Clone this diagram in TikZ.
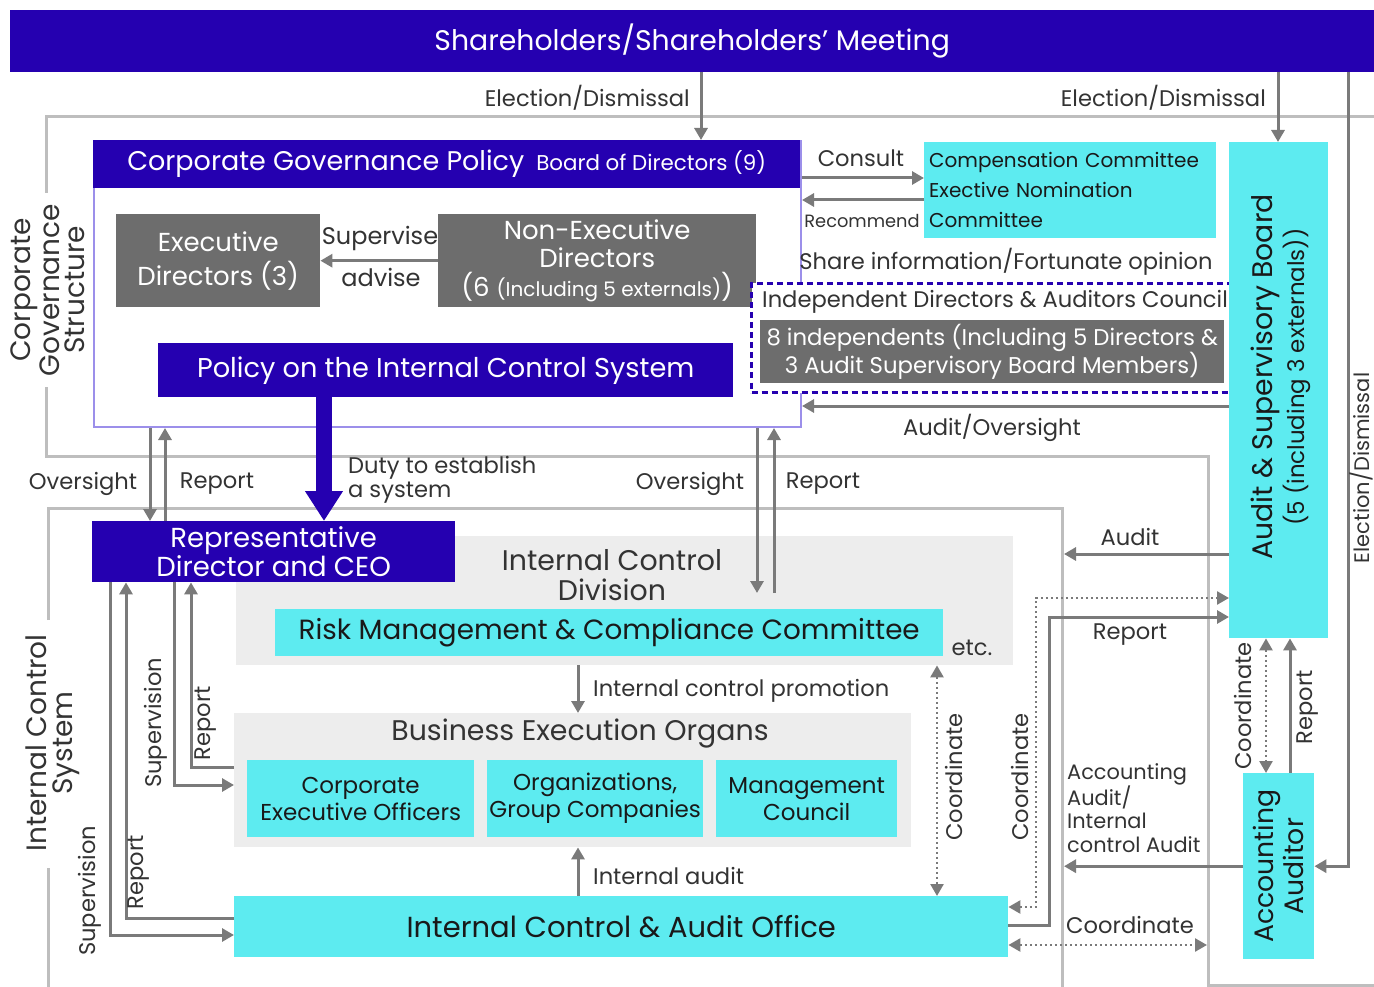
\documentclass[tikz,border=0pt]{standalone}
\usepackage{fontspec}
\setmainfont{Poppins}
\usepackage{tikz}
\usetikzlibrary{arrows.meta}
\definecolor{icblue}{HTML}{2500B0}
\definecolor{iccyan}{HTML}{5DEBF0}
\definecolor{icgray}{HTML}{6D6D6D}
\definecolor{iclight}{HTML}{EDEDED}
\definecolor{icarrow}{HTML}{7A7A7A}
\definecolor{icframe}{HTML}{BEBEBE}
\definecolor{icpurple}{HTML}{9C8FEA}
\definecolor{ictext}{HTML}{333333}
\newcommand{\fsTitle}{\fontsize{28.3}{30}\selectfont}
\newcommand{\fsHead}{\fontsize{27}{28}\selectfont}
\newcommand{\fsSub}{\fontsize{21.4}{23}\selectfont}
\newcommand{\fsBox}{\fontsize{28.4}{30}\selectfont}
\newcommand{\fsUnit}{\fontsize{23}{27}\selectfont}
\newcommand{\fsLbl}{\fontsize{22.6}{24}\selectfont}
\newcommand{\fsSmall}{\fontsize{20.9}{23.5}\selectfont}
\newcommand{\fsSection}{\fontsize{28}{25.5}\selectfont}
\tikzset{
  bluebox/.style={fill=icblue, text=white, inner sep=0pt, anchor=north west, align=center},
  cyanbox/.style={fill=iccyan, text=black!90, inner sep=0pt, anchor=north west, align=center},
  graybox/.style={fill=icgray, text=white, inner sep=0pt, anchor=north west, align=center},
  zonebg/.style={fill=iclight, inner sep=0pt, anchor=north west},
  lbl/.style={font=\fsLbl, text=ictext, inner sep=0pt},
  link/.style={draw=icarrow, line width=3pt, -{Triangle[length=12pt,width=13pt]}},
  dotlink/.style={draw=icarrow, line width=2.5pt, dash pattern=on 2.5pt off 2.5pt,
    {Triangle[length=12pt,width=13pt]}-{Triangle[length=12pt,width=13pt]}},
  frameline/.style={draw=icframe, line width=3pt}
}
\begin{document}
\begin{tikzpicture}[x=1pt,y=-1pt]
\useasboundingbox (0,0) rectangle (1374,987);
% Shareholders
\node[bluebox, minimum width=1364pt, minimum height=62pt, font=\fsTitle] (share) at (10,10)
    {Shareholders/Shareholders’ Meeting};
% Frames of the two structures
\draw[frameline] (1374,117) -- (46,117) -- (46,193);
\draw[frameline] (46,387) -- (46,456) -- (1208,456) -- (1208,985) -- (1374,985);
\draw[frameline] (48,620) -- (48,508) -- (1062,508) -- (1062,987);
\draw[frameline] (48,868) -- (48,987);
\node[font=\fsSection, text=ictext, rotate=90, align=center, inner sep=0pt] (govlbl) at (48,290)
    {Corporate\\Governance\\Structure};
\node[font=\fontsize{28}{26}\selectfont, text=ictext, rotate=90, align=center, inner sep=0pt] (icslbl) at (53,743)
    {Internal Control\\System};
% Board of Directors
\node[draw=icpurple, line width=2pt, fill=white, minimum width=707pt, minimum height=286pt,
    anchor=north west, inner sep=0pt] (board) at (93,140) {};
\node[bluebox, minimum width=707pt, minimum height=48pt] (boardhead) at (93,140)
    {{\fsHead Corporate Governance Policy}\hspace{12pt}{\fsSub Board of Directors (9)}};
\node[graybox, minimum width=204pt, minimum height=93pt, font=\fontsize{26}{34}\selectfont] (execdir) at (116,214)
    {Executive\\Directors (3)};
\node[graybox, minimum width=318pt, minimum height=93pt, font=\fontsize{26}{28.5}\selectfont] (nonexec) at (438,214)
    {Non-Executive\\Directors\\(6 {\fontsize{20}{22}\selectfont(Including 5 externals)})};
\draw[link] (nonexec.west) -- (execdir.east);
\node[lbl, font=\fontsize{24}{26}\selectfont] (supervise) at (380,238) {Supervise};
\node[lbl, font=\fontsize{24}{26}\selectfont] (advise) at (381,277) {advise};
\node[bluebox, minimum width=575pt, minimum height=54pt, font=\fontsize{27.2}{30}\selectfont] (policy) at (158,343)
    {Policy on the Internal Control System};
% Committees and council
\node[cyanbox, minimum width=292pt, minimum height=96pt, text width=282pt, align=left,
    font=\fontsize{20}{30}\selectfont] (comp) at (924,142)
    {Compensation Committee\\Exective Nomination\\Committee};
\coordinate (consulty) at (0,178);
\coordinate (recy) at (0,200);
\draw[link] (board.east |- consulty) -- (comp.west |- consulty);
\draw[link] (comp.west |- recy) -- (board.east |- recy);
\node[lbl] (consult) at (861,158) {Consult};
\node[lbl, font=\fontsize{17.8}{20}\selectfont] (recommend) at (862,221) {Recommend};
\node[lbl] (shareinfo) at (1006,262) {Share information/Fortunate opinion};
\node[draw=icblue, fill=white, line width=3pt, dash pattern=on 6pt off 4pt, minimum width=486pt,
    minimum height=109pt, anchor=north west, inner sep=0pt] (council) at (750,282) {};
\node[lbl, anchor=west] (counciltitle) at (762,302) {Independent Directors \& Auditors Council};
\node[graybox, minimum width=464pt, minimum height=63pt, font=\fontsize{22.8}{28}\selectfont] (indep) at (760,320)
    {8 independents (Including 5 Directors \&\\3 Audit Supervisory Board Members)};
% Audit & Supervisory Board
\node[cyanbox, minimum width=99pt, minimum height=496pt] (asb) at (1229,142) {};
\node[rotate=90, align=center, text=black!90, inner sep=0pt, font=\fontsize{28.3}{32}\selectfont] (asbtext) at (1281,377)
    {Audit \& Supervisory Board\\{\fontsize{22.9}{25}\selectfont (5 (including 3 externals))}};
\coordinate (auy) at (0,406);
\draw[link] (asb.west |- auy) -- (board.east |- auy);
\node[lbl] (auditover) at (992,428) {Audit/Oversight};
% Election / Dismissal
\coordinate (elA) at (701,0);
\coordinate (elB) at (1278,0);
\coordinate (elC) at (1348,0);
\draw[link] (share.south -| elA) -- (board.north -| elA);
\draw[link] (share.south -| elB) -- (asb.north -| elB);
\node[lbl, anchor=east] (elecA) at (690,98) {Election/Dismissal};
\node[lbl, anchor=east] (elecB) at (1266,98) {Election/Dismissal};
% Internal control structure
\node[zonebg, minimum width=777pt, minimum height=129pt] (icd) at (236,536) {};
\node[font=\fsBox, text=ictext, align=center, inner sep=0pt] (icdtitle) at (612,575) {Internal Control\\Division};
\node[cyanbox, minimum width=668pt, minimum height=47pt, font=\fontsize{27.8}{30}\selectfont] (risk) at (275,609)
    {Risk Management \& Compliance Committee};
\node[lbl] (etc) at (972,648) {etc.};
\node[bluebox, minimum width=363pt, minimum height=61pt, font=\fontsize{27.5}{28}\selectfont] (ceo) at (92,521)
    {Representative\\Director and CEO};
\node[zonebg, minimum width=677pt, minimum height=134pt] (beo) at (234,713) {};
\node[font=\fsBox, text=ictext, inner sep=0pt] (beotitle) at (580,734) {Business Execution Organs};
\node[cyanbox, minimum width=227pt, minimum height=77pt, font=\fsUnit] (ceoff) at (247,760)
    {Corporate\\Executive Officers};
\node[cyanbox, minimum width=216pt, minimum height=77pt, font=\fsUnit] (orggrp) at (487,760)
    {Organizations,\\Group Companies};
\node[cyanbox, minimum width=181pt, minimum height=77pt, font=\fsUnit] (mgmt) at (716,760)
    {Management\\Council};
\node[cyanbox, minimum width=774pt, minimum height=61pt, font=\fontsize{29}{30}\selectfont] (office) at (234,896)
    {Internal Control \& Audit Office};
% Duty to establish a system
\coordinate (dutyx) at (324,0);
\draw[icblue, line width=16pt, -{Triangle[length=30pt,width=36pt]}] (policy.south -| dutyx) -- (ceo.north -| dutyx);
\node[lbl, anchor=north west, align=left] (duty) at (348,456) {Duty to establish\\a system};
% Oversight / Report with the board
\coordinate (ovA) at (150,0);
\coordinate (rpA) at (165,0);
\coordinate (ovB) at (757,0);
\coordinate (rpB) at (774,0);
\coordinate (icdtap) at (0,593);
\draw[link] (board.south -| ovA) -- (ceo.north -| ovA);
\draw[link] (ceo.north -| rpA) -- (board.south -| rpA);
\draw[link] (board.south -| ovB) -- (icdtap -| ovB);
\draw[link] (icdtap -| rpB) -- (board.south -| rpB);
\node[lbl] (ovAlbl) at (83,484) {Oversight};
\node[lbl] (rpAlbl) at (217,484) {Report};
\node[lbl] (ovBlbl) at (690,484) {Oversight};
\node[lbl] (rpBlbl) at (823,484) {Report};
% Internal control promotion / Internal audit
\coordinate (midx) at (578,0);
\draw[link] (icd.south -| midx) -- (beo.north -| midx);
\draw[link] (office.north -| midx) -- (beo.south -| midx);
\node[lbl, anchor=west] (promo) at (593,691) {Internal control promotion};
\node[lbl, anchor=west] (intaudit) at (593,876) {Internal audit};
% Supervision / Report from the CEO
\coordinate (supA) at (110,935);
\coordinate (repA) at (126,918);
\coordinate (supB) at (174,785);
\coordinate (repB) at (191,767);
\draw[link] (ceo.south -| supA) |- (office.west |- supA);
\draw[link] (office.west |- repA) -| (ceo.south -| repA);
\draw[link] (ceo.south -| supB) |- (beo.west |- supB);
\draw[link] (beo.west |- repB) -| (ceo.south -| repB);
\node[lbl, rotate=90] (supAlbl) at (90,891) {Supervision};
\node[lbl, rotate=90] (repAlbl) at (139,872) {Report};
\node[lbl, rotate=90] (supBlbl) at (156,723) {Supervision};
\node[lbl, rotate=90] (repBlbl) at (206,723) {Report};
% Coordinate inside internal control
\coordinate (coA) at (937,0);
\draw[dotlink] (icd.south -| coA) -- (office.north -| coA);
\node[lbl, rotate=90] (coAlbl) at (954,777) {Coordinate};
% Accounting Auditor
\node[cyanbox, minimum width=71pt, minimum height=186pt] (auditor) at (1243,773) {};
\node[rotate=90, align=center, text=black!90, inner sep=0pt, font=\fontsize{26.7}{30}\selectfont] (auditortext) at (auditor.center)
    {Accounting\\Auditor};
\coordinate (coB) at (1266,0);
\coordinate (rpC) at (1290,0);
\draw[dotlink] (asb.south -| coB) -- (auditor.north -| coB);
\draw[link] (auditor.north -| rpC) -- (asb.south -| rpC);
\node[lbl, rotate=90] (coBlbl) at (1243,706) {Coordinate};
\node[lbl, rotate=90] (rpClbl) at (1308,707) {Report};
\draw[link] (share.south -| elC) |- (auditor.east);
\node[lbl, rotate=90, font=\fontsize{21}{23}\selectfont] (elecC) at (1361,468) {Election/Dismissal};
% Audit lines to the internal control structure
\coordinate (icsedge) at (1064,0);
\coordinate (audity) at (0,554);
\draw[link] (asb.west |- audity) -- (icsedge |- audity);
\node[lbl] (auditlbl) at (1130,537) {Audit};
\draw[link] (auditor.west) -- (auditor.west -| icsedge);
\node[lbl, anchor=north west, align=left, font=\fsSmall] (acclbl) at (1067,763)
    {Accounting\\Audit/\\Internal\\control Audit};
% Office to the Audit & Supervisory Board
\coordinate (rptup) at (1049,617);
\coordinate (rptlo) at (1049,925);
\coordinate (cotop) at (1036,598);
\coordinate (colo) at (1036,907);
\coordinate (govedge) at (1207,945);
\draw[link] (office.east |- rptlo) -- (rptlo) -- (rptup) -- (asb.west |- rptup);
\draw[dotlink] (office.east |- colo) -- (colo) -- (cotop) -- (asb.west |- cotop);
\draw[dotlink] (office.east |- govedge) -- (govedge);
\node[lbl] (rptlbl) at (1130,635) {Report};
\node[lbl, rotate=90] (coClbl) at (1020,777) {Coordinate};
\node[lbl] (coDlbl) at (1130,925) {Coordinate};
\end{tikzpicture}
\end{document}
